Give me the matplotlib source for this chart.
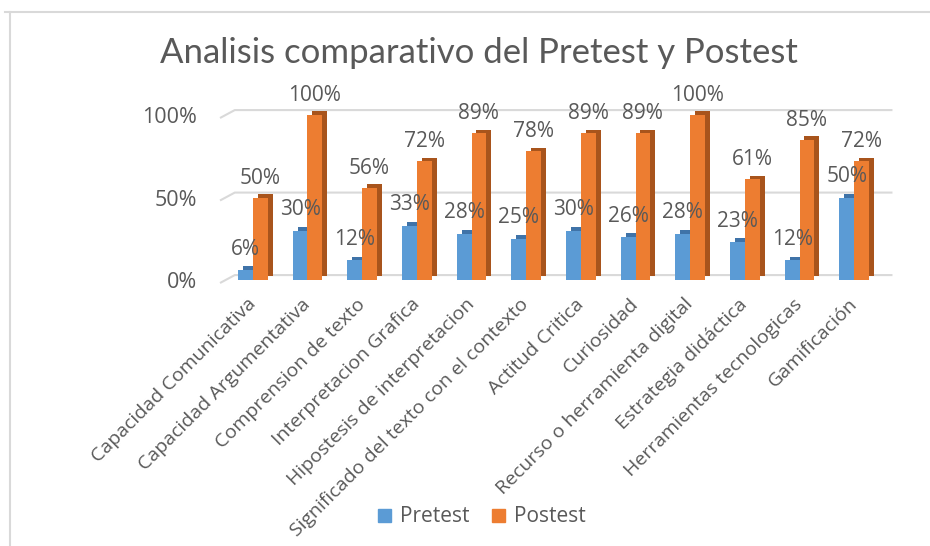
import matplotlib.pyplot as plt
from matplotlib.lines import Line2D
from matplotlib.patches import Patch

categories = ['Capacidad Comunicativa', 'Capacidad Argumentativa', 'Comprension de texto',
              'Interpretacion Grafica', 'Hipostesis de interpretacion',
              'Significado del texto con el contexto', 'Actitud Critica', 'Curiosidad',
              'Recurso o herramienta digital', 'Estrategia didáctica',
              'Herramientas tecnologicas', 'Gamificación']
pretest = [0.06, 0.30, 0.12, 0.33, 0.28, 0.25, 0.30, 0.26, 0.28, 0.23, 0.12, 0.50]
postest = [0.50, 1.00, 0.56, 0.72, 0.89, 0.78, 0.89, 0.89, 1.00, 0.61, 0.85, 0.72]
yticks = [0, 0.5, 1.0]
yticklabels = ['0%', '50%', '100%']

blue, blue_dark = '#5B9BD5', '#3F73A8'
orange, orange_dark = '#ED7D31', '#A8541C'
grey = '#595959'
grid_c = '#D9D9D9'

plt.rcParams['font.family'] = ['Open Sans', 'DejaVu Sans']

fig = plt.figure(figsize=(9.3, 5.46), dpi=100)
ax = fig.add_axes([0.231, 0.4505, 0.731, 0.3663])

x = list(range(len(categories)))
w = 0.27
dx, dy = 0.09, 0.022   # fake 3d depth

# gridlines with a small perspective kink on the left
for v in yticks:
    ax.plot([-0.60, -0.33, 11.70], [v - 0.018, v + 0.03, v + 0.03],
            color=grid_c, lw=1.5, zorder=0, solid_capstyle='butt')

xb = [i - w / 2 for i in x]
xo = [i + w / 2 for i in x]
ax.bar([i + dx for i in xb], pretest, w, bottom=dy, color=blue_dark, zorder=1)
ax.bar([i + dx for i in xo], postest, w, bottom=dy, color=orange_dark, zorder=1)
ax.bar(xb, pretest, w, color=blue, zorder=2)
ax.bar(xo, postest, w, color=orange, zorder=3)

for i in x:
    ax.annotate('{:.0f}%'.format(pretest[i] * 100), (xb[i], pretest[i]),
                xytext=(0, 15), textcoords='offset points', ha='center', va='center',
                fontsize=15, color=grey, zorder=5)
    ax.annotate('{:.0f}%'.format(postest[i] * 100), (xo[i], postest[i]),
                xytext=(0, 14), textcoords='offset points', ha='center', va='center',
                fontsize=15, color=grey, zorder=5)

ax.set_xlim(-0.695, 11.74)
ax.set_ylim(-0.1212, 1.0909)
ax.set_yticks(yticks)
ax.set_yticklabels(yticklabels, fontsize=15.5, color=grey)
ax.set_xticks(x)
ax.set_xticklabels(categories, rotation=45, ha='right', va='center',
                   rotation_mode='anchor', fontsize=14, color=grey)
ax.tick_params(axis='both', length=0)
ax.tick_params(axis='y', pad=13)
ax.tick_params(axis='x', pad=1)
for s in ax.spines.values():
    s.set_visible(False)

fig.text(0.515, 0.903, 'Analisis comparativo del Pretest y Postest', ha='center', va='center',
         fontsize=25, color=grey, family=['Lato', 'DejaVu Sans'])

handles = [Patch(color=blue), Patch(color=orange)]
fig.legend(handles, ['Pretest', 'Postest'], loc='center', bbox_to_anchor=(482 / 930, 1 - 517 / 546),
           ncol=2, frameon=False, fontsize=15, labelcolor=grey,
           handlelength=0.6, handleheight=0.6, handletextpad=0.43, columnspacing=1.1)

# chart border (top and left edges visible)
fig.add_artist(Line2D([5 / 930, 1], [1 - 12 / 546, 1 - 12 / 546], color=grid_c, lw=1.5))
fig.add_artist(Line2D([10 / 930, 10 / 930], [0, 1 - 12 / 546], color=grid_c, lw=1.5))

fig.savefig('out.png', dpi=100)
